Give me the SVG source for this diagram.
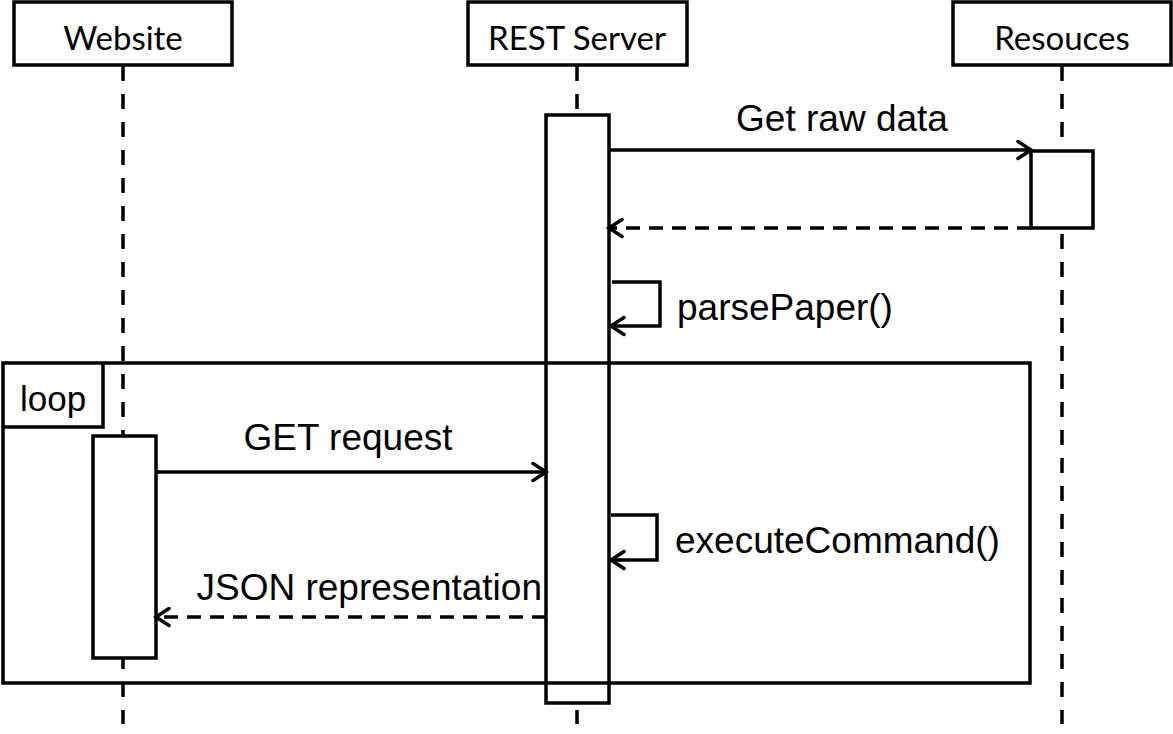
<svg xmlns="http://www.w3.org/2000/svg" width="1173" height="734" viewBox="0 0 1173 734">
<style>
.box{fill:#fff;stroke:#000;stroke-width:3.5}
.life{stroke:#000;stroke-width:3.5;stroke-dasharray:15 13;fill:none}
.act{fill:#fff;stroke:#000;stroke-width:3.5}
.frame{fill:none;stroke:#000;stroke-width:3.5}
.msg{fill:none;stroke:#000;stroke-width:3.5}
.ret{fill:none;stroke:#000;stroke-width:3.5;stroke-dasharray:14 9}
.hd{font-family:Lato,"Open Sans",sans-serif;font-size:33px;fill:#000;text-anchor:middle}
.lbl{font-family:"Liberation Sans",Arial,sans-serif;font-size:37px;fill:#000}
</style>
<defs>
<marker id="ah" markerWidth="20" markerHeight="22" refX="15" refY="11" orient="auto" markerUnits="userSpaceOnUse">
<path d="M2,2.5 L15,11 L2,19.5" fill="none" stroke="#000" stroke-width="3.5" stroke-linecap="round"/>
</marker>
</defs>
<g id="lifelines">
<line class="life" x1="123" y1="66" x2="123" y2="724"/>
<line class="life" x1="577" y1="66" x2="577" y2="724"/>
<line class="life" x1="1062" y1="66" x2="1062" y2="724"/>
</g>
<g id="website"><rect class="box" x="14" y="2" width="218" height="63"/><text class="hd" x="123" y="50">Website</text></g>
<g id="rest-server"><rect class="box" x="468" y="2" width="219" height="63"/><text class="hd" x="577" y="50">REST Server</text></g>
<g id="resources"><rect class="box" x="953" y="2" width="218" height="63"/><text class="hd" x="1062" y="50">Resouces</text></g>
<g id="activations">
<rect class="act" x="546" y="115" width="63" height="588"/>
<rect class="act" x="1031" y="151" width="62" height="77"/>
<rect class="act" x="93" y="436" width="63" height="222"/>
</g>
<g id="loop-frame">
<rect class="frame" x="3" y="363" width="1027" height="320"/>
<path class="frame" d="M3,427 H103 V363"/>
<text class="lbl" x="20" y="411" style="font-size:35px">loop</text>
</g>
<g id="connectors">
<line class="msg" x1="609" y1="150" x2="1031" y2="150" marker-end="url(#ah)"/>
<line class="ret" x1="1031" y1="228" x2="609" y2="228" marker-end="url(#ah)"/>
<path class="msg" d="M612,282 H660 V326 H611" marker-end="url(#ah)"/>
<line class="msg" x1="156" y1="472" x2="546" y2="472" marker-end="url(#ah)"/>
<path class="msg" d="M611,515 H657 V560 H611" marker-end="url(#ah)"/>
<line class="ret" x1="546" y1="617" x2="156" y2="617" marker-end="url(#ah)"/>
</g>
<g id="labels">
<text class="lbl" x="842" y="131" text-anchor="middle">Get raw data</text>
<text class="lbl" x="677" y="320">parsePaper()</text>
<text class="lbl" x="348" y="450" text-anchor="middle">GET request</text>
<text class="lbl" x="675" y="553">executeCommand()</text>
<text class="lbl" x="542" y="600" text-anchor="end">JSON representation</text>
</g>
</svg>
